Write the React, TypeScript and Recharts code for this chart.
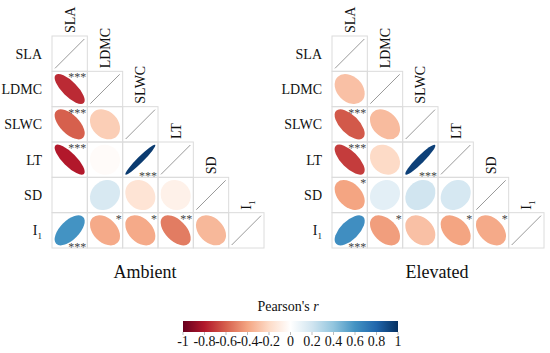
import { Bar, BarChart, Scatter, ScatterChart, XAxis, YAxis } from "recharts";

// variables (rows top->bottom, columns left->right)
const traits = ["SLA", "LDMC", "SLWC", "LT", "SD", "I1"];

// lower triangle, row by row: [LDMC-SLA], [SLWC-SLA, SLWC-LDMC], ...
const ambientR = [
  [-0.75],
  [-0.6, -0.25],
  [-0.8, -0.02, 0.96],
  [0.0, 0.17, -0.15, -0.08],
  [0.6, -0.38, -0.38, -0.52, -0.33],
];
const ambientStars = [
  ["***"],
  ["***", ""],
  ["***", "", "***"],
  ["", "", "", ""],
  ["***", "*", "*", "**", ""],
];

const elevatedR = [
  [-0.3],
  [-0.62, -0.32],
  [-0.7, -0.2, 0.94],
  [-0.4, 0.12, 0.2, 0.18],
  [0.62, -0.42, -0.3, -0.4, -0.38],
];
const elevatedStars = [
  [""],
  ["***", ""],
  ["***", "", "***"],
  ["*", "", "", ""],
  ["***", "*", "", "*", "*"],
];

const colorTicks = [-1, -0.8, -0.6, -0.4, -0.2, 0, 0.2, 0.4, 0.6, 0.8, 1];
const rdbu = [
  "#67001F", "#B2182B", "#D6604D", "#F4A582", "#FDDBC7", "#FFFFFF",
  "#D1E5F0", "#92C5DE", "#4393C3", "#2166AC", "#053061",
];

const FONT = "'Liberation Serif', 'Times New Roman', serif";
const N = traits.length;
const PLOT = 212;
const CELL = PLOT / N;

function hex(c: string) {
  return [1, 3, 5].map((i) => parseInt(c.slice(i, i + 2), 16));
}

function rColor(r: number) {
  const t = ((r + 1) / 2) * (rdbu.length - 1);
  const i = Math.min(Math.floor(t), rdbu.length - 2);
  const f = t - i;
  const a = hex(rdbu[i]);
  const b = hex(rdbu[i + 1]);
  const m = a.map((v, k) => Math.round(v + (b[k] - v) * f));
  return `rgb(${m[0]},${m[1]},${m[2]})`;
}

function buildCells(rs: number[][], stars: string[][]) {
  const out: any[] = [];
  for (let i = 0; i < N; i++) {
    out.push({ x: i + 0.5, y: i + 0.5, diag: true, label: traits[i] });
    for (let j = 0; j < i; j++) {
      out.push({ x: j + 0.5, y: i + 0.5, r: rs[i - 1][j], stars: stars[i - 1][j] });
    }
  }
  return out;
}

function TraitLabel({ name }: { name: string }) {
  if (name === "I1") {
    return (
      <>
        I<tspan fontSize={9} dy={4}>1</tspan>
      </>
    );
  }
  return <>{name}</>;
}

function CellShape(props: any) {
  const { cx, cy, payload } = props;
  if (cx == null || cy == null) return null;
  const h = CELL / 2;
  const border = (
    <rect x={cx - h} y={cy - h} width={CELL} height={CELL} fill="none" stroke="#dcdcdc" strokeWidth={1} />
  );
  if (payload.diag) {
    return (
      <g>
        {border}
        <line x1={cx - h + 3} y1={cy + h - 3} x2={cx + h - 3} y2={cy - h + 3} stroke="#9a9a9a" strokeWidth={1} />
        <text
          x={cx + 5}
          y={cy - h - 3}
          transform={`rotate(-90 ${cx + 5} ${cy - h - 3})`}
          style={{ fontFamily: FONT }}
          fontSize={14}
          fill="#111"
        >
          <TraitLabel name={payload.label} />
        </text>
      </g>
    );
  }
  const r = payload.r;
  const a = 0.425 * Math.sqrt(1 + r) * CELL;
  const b = 0.425 * Math.sqrt(1 - r) * CELL;
  return (
    <g>
      {border}
      <ellipse
        cx={cx}
        cy={cy}
        rx={Math.max(a, 0.3)}
        ry={Math.max(b, 0.3)}
        transform={`rotate(-45 ${cx} ${cy})`}
        fill={rColor(r)}
      />
      {payload.stars ? (
        <text
          x={cx + h - 1}
          y={r < 0 ? cy - h + 10 : cy + h + 3}
          textAnchor="end"
          style={{ fontFamily: FONT }}
          fontSize={12}
          fill="#444"
        >
          {payload.stars}
        </text>
      ) : null}
    </g>
  );
}

function RowTick(props: any) {
  const { x, y, payload } = props;
  const name = traits[Math.floor(payload.value)];
  return (
    <text x={x} y={y + 5} textAnchor="end" style={{ fontFamily: FONT }} fontSize={14} fill="#111">
      <TraitLabel name={name} />
    </text>
  );
}

function CorrPanel({ data }: { data: any[] }) {
  return (
    <ScatterChart width={280} height={260} margin={{ top: 36, left: 0, right: 16, bottom: 12 }}>
      <XAxis type="number" dataKey="x" domain={[0, N]} hide />
      <YAxis
        type="number"
        dataKey="y"
        domain={[0, N]}
        reversed
        width={52}
        ticks={traits.map((_, i) => i + 0.5)}
        interval={0}
        axisLine={false}
        tickLine={false}
        tickMargin={4}
        tick={<RowTick />}
      />
      <Scatter data={data} shape={<CellShape />} isAnimationActive={false} />
    </ScatterChart>
  );
}

const colorBarData = [{ name: "r", range: [-1, 1] }];

function ColorBar() {
  return (
    <BarChart
      width={245}
      height={45}
      layout="vertical"
      data={colorBarData}
      barCategoryGap={0}
      margin={{ top: 11, left: 13, right: 17, bottom: 0 }}
    >
      <defs>
        <linearGradient id="rdbu" x1="0" y1="0" x2="1" y2="0">
          {rdbu.map((c, i) => (
            <stop key={i} offset={`${(i / (rdbu.length - 1)) * 100}%`} stopColor={c} />
          ))}
        </linearGradient>
      </defs>
      <XAxis
        type="number"
        domain={[-1, 1]}
        ticks={colorTicks}
        interval={0}
        height={23}
        axisLine={false}
        tickLine={{ stroke: "#bbb" }}
        tickSize={3}
        tickMargin={1}
        tick={{ fontSize: 14, fill: "#111", style: { fontFamily: FONT } }}
      />
      <YAxis type="category" dataKey="name" hide />
      <Bar dataKey="range" fill="url(#rdbu)" isAnimationActive={false} />
    </BarChart>
  );
}

export default function App() {
  const titleStyle: any = {
    position: "absolute",
    fontFamily: FONT,
    fontSize: 18,
    color: "#111",
    transform: "translateX(-50%)",
    whiteSpace: "nowrap",
    lineHeight: "18px",
  };
  return (
    <div style={{ position: "absolute", left: 0, top: 0, width: 550, height: 353, background: "#fff", overflow: "hidden", fontFamily: FONT }}>
      <div style={{ position: "absolute", left: 0, top: 0 }}>
        <CorrPanel data={buildCells(ambientR, ambientStars)} />
      </div>
      <div style={{ position: "absolute", left: 280, top: 0 }}>
        <CorrPanel data={buildCells(elevatedR, elevatedStars)} />
      </div>
      <div style={{ ...titleStyle, left: 145, top: 263 }}>Ambient</div>
      <div style={{ ...titleStyle, left: 437, top: 263 }}>Elevated</div>
      <div style={{ ...titleStyle, fontSize: 14, lineHeight: "14px", left: 288, top: 300 }}>
        Pearson's <i>r</i>
      </div>
      <div style={{ position: "absolute", left: 170, top: 310 }}>
        <ColorBar />
      </div>
    </div>
  );
}
